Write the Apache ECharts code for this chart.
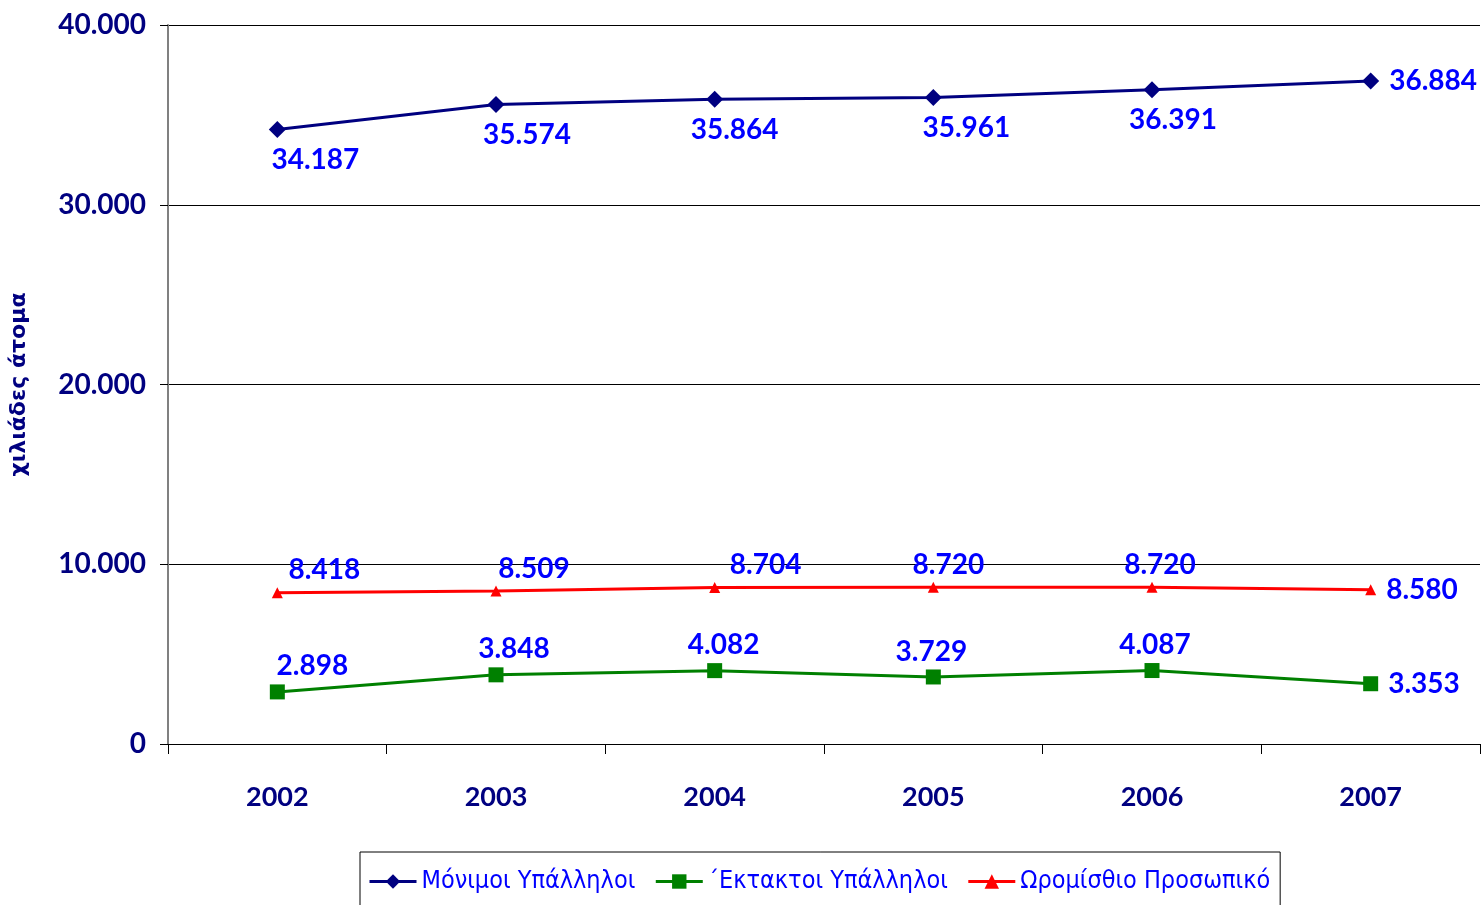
<!DOCTYPE html>
<html>
<head>
<meta charset="utf-8">
<script src="https://cdn.jsdelivr.net/npm/echarts@6/dist/echarts.min.js"></script>
<style>
  html, body { margin: 0; padding: 0; background: #fff; }
  #chart { width: 1481px; height: 905px; }
</style>
</head>
<body>
<div id="chart"></div>
<script>
// data
const years = ['2002', '2003', '2004', '2005', '2006', '2007']
const monimoi = [34187, 35574, 35864, 35961, 36391, 36884]
const ektaktoi = [2898, 3848, 4082, 3729, 4087, 3353]
const oromisthio = [8418, 8509, 8704, 8720, 8720, 8580]
const seriesNames = ['Μόνιμοι Υπάλληλοι', '΄Εκτακτοι Υπάλληλοι', 'Ωρομίσθιο Προσωπικό']

// label offsets (style only)
const monimoiOffsets = [[38, 0], [31, 0], [20, 0], [33, 0], [21, 0]]
const ektaktoiOffsets = [[35, 0], [18, 0], [9, 0], [-2, 0], [3, 0]]
const oromOffsets = [[47, 0], [38, 0], [51, 0], [15, 0], [8, 0]]

const fmt = v => String(v).replace(/\B(?=(\d{3})+(?!\d))/g, '.')
const labelFont = 'Lato, "DejaVu Sans", sans-serif'

const buildData = (values, pos, offsets) => values.map((v, i) => {
  if (i === values.length - 1) {
    return { value: v, label: { position: 'right', distance: 10, offset: [0, 0] } }
  }
  return { value: v, label: { position: pos, offset: offsets[i] } }
})

const labelStyle = (dist) => ({
  show: true,
  color: '#0000ff',
  fontSize: 28,
  fontWeight: 'bold',
  fontFamily: labelFont,
  formatter: p => fmt(p.value),
  distance: dist
})

const chart = echarts.init(document.getElementById('chart'))
chart.setOption({
  animation: false,
  grid: { left: 168, right: 1, top: 25, bottom: 161 },
  legend: {
    left: 360,
    top: 852,
    width: 930,
    borderColor: '#000',
    borderWidth: 1,
    padding: [17, 10, 20, 8],
    itemGap: 19,
    itemWidth: 47,
    itemHeight: 18,
    lineStyle: { width: 3 },
    textStyle: { color: '#0000ff', fontSize: 25, fontFamily: '"Liberation Sans Narrow", "DejaVu Sans Condensed", sans-serif' },
    data: seriesNames
  },
  xAxis: {
    type: 'category',
    data: years,
    boundaryGap: true,
    axisLine: { lineStyle: { color: '#000', width: 1 } },
    axisTick: { show: true, length: 10, lineStyle: { color: '#000' } },
    axisLabel: { color: '#000080', fontWeight: 'bold', fontSize: 27, margin: 40, fontFamily: labelFont },
    splitLine: { show: false }
  },
  yAxis: {
    type: 'value',
    min: 0,
    max: 40000,
    interval: 10000,
    name: 'χιλιάδες άτομα',
    nameLocation: 'middle',
    nameGap: 138,
    nameRotate: 90,
    nameTextStyle: { color: '#000080', fontWeight: 'bold', fontSize: 22, fontFamily: '"DejaVu Sans", sans-serif' },
    axisLine: { show: true, lineStyle: { color: '#808080', width: 2 } },
    axisTick: { show: true, length: 8, lineStyle: { color: '#000' } },
    axisLabel: { color: '#000080', fontWeight: 'bold', fontSize: 28, margin: 22, formatter: fmt, fontFamily: labelFont },
    splitLine: { show: true, lineStyle: { color: '#000', width: 1 } }
  },
  series: [
    {
      name: seriesNames[0],
      type: 'line',
      data: buildData(monimoi, 'bottom', monimoiOffsets),
      color: '#000080',
      lineStyle: { width: 3 },
      symbol: 'diamond',
      symbolSize: 17,
      label: labelStyle(8)
    },
    {
      name: seriesNames[1],
      type: 'line',
      data: buildData(ektaktoi, 'top', ektaktoiOffsets),
      color: '#008000',
      lineStyle: { width: 3 },
      symbol: 'rect',
      symbolSize: 15,
      label: labelStyle(4)
    },
    {
      name: seriesNames[2],
      type: 'line',
      data: buildData(oromisthio, 'top', oromOffsets),
      color: '#ff0000',
      lineStyle: { width: 3 },
      symbol: 'triangle',
      symbolSize: 11,
      label: labelStyle(3)
    }
  ]
})
</script>
</body>
</html>
